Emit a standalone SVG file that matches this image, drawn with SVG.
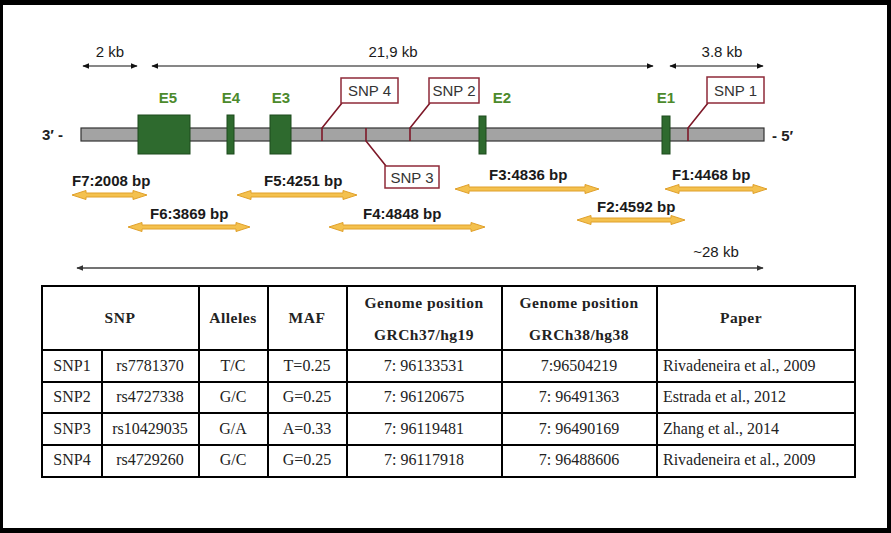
<svg xmlns="http://www.w3.org/2000/svg" width="891" height="533" viewBox="0 0 891 533">
<defs>
<style>
.sans{font-family:"Liberation Sans",Arial,sans-serif}
.scale{font-size:15px;fill:#1a1a1a}
.exon{fill:#2e6a2e;stroke:#1c4a1c;stroke-width:1}
.elab{font-size:15px;font-weight:bold;fill:#4c8a2c;text-anchor:middle}
.snpbox{fill:#fff;stroke:#8e2a38;stroke-width:1.5}
.snptxt{font-size:15px;fill:#333;text-anchor:middle}
.snpline{fill:none;stroke:#7d1828;stroke-width:1.6}
.frag{fill:#f4c14e;stroke:#e0a02a;stroke-width:1}
.flab{font-size:15px;font-weight:bold;fill:#1a1a1a}
.dim{stroke:#111;stroke-width:1.2;fill:none}
.serif{font-family:"Liberation Serif","Times New Roman",serif;font-size:16px;fill:#222}
.hd{font-weight:bold;font-size:15.5px;letter-spacing:0.5px}
.c{text-anchor:middle}
.grid{stroke:#000;stroke-width:2;fill:none}
</style>
<marker id="ah" viewBox="0 0 10 10" refX="9" refY="5" markerWidth="7" markerHeight="7" orient="auto-start-reverse" markerUnits="userSpaceOnUse">
<path d="M0,1 L10,5 L0,9 z" fill="#111"/>
</marker>
<marker id="ahg" viewBox="0 0 10 10" refX="9" refY="5" markerWidth="7" markerHeight="7" orient="auto-start-reverse" markerUnits="userSpaceOnUse">
<path d="M0,1 L10,5 L0,9 z" fill="#333"/>
</marker>
</defs>
<rect x="0" y="0" width="891" height="533" fill="#000"/>
<rect x="3" y="5" width="884" height="523" fill="#fff"/>

<g id="scale-bars" class="sans">
<line class="dim" x1="83" y1="66" x2="137" y2="66" marker-start="url(#ah)" marker-end="url(#ah)"/>
<text class="scale" x="110" y="57" text-anchor="middle">2 kb</text>
<line class="dim" x1="152" y1="66" x2="653" y2="66" marker-start="url(#ah)" marker-end="url(#ah)"/>
<text class="scale" x="393" y="57" text-anchor="middle">21,9 kb</text>
<line class="dim" x1="670" y1="66" x2="763" y2="66" marker-start="url(#ah)" marker-end="url(#ah)"/>
<text class="scale" x="722" y="57" text-anchor="middle">3.8 kb</text>
<line x1="77" y1="268" x2="763" y2="268" stroke="#444" stroke-width="1.4" marker-start="url(#ahg)" marker-end="url(#ahg)"/>
<text class="scale" x="716" y="257" text-anchor="middle">~28 kb</text>
</g>

<g id="gene" class="sans">
<rect x="81" y="128" width="683" height="13" fill="#a3a3a3" stroke="#333" stroke-width="1.2"/>
<text x="42" y="140" font-size="15" font-weight="bold" fill="#222">3′ -</text>
<text x="772" y="141" font-size="15" font-weight="bold" fill="#222">- 5′</text>
</g>

<g id="exon-E5" class="sans"><rect class="exon" x="138" y="115" width="52" height="39"/><text class="elab" x="168" y="103">E5</text></g>
<g id="exon-E4" class="sans"><rect class="exon" x="227" y="115" width="7" height="39"/><text class="elab" x="231" y="103">E4</text></g>
<g id="exon-E3" class="sans"><rect class="exon" x="270" y="115" width="21" height="39"/><text class="elab" x="281" y="103">E3</text></g>
<g id="exon-E2" class="sans"><rect class="exon" x="479" y="116" width="7" height="38"/><text class="elab" x="502" y="103">E2</text></g>
<g id="exon-E1" class="sans"><rect class="exon" x="662" y="116" width="8" height="38"/><text class="elab" x="666" y="103">E1</text></g>

<g id="connectors">
<polyline class="snpline" points="342,103 322,128 322,141"/>
<polyline class="snpline" points="430,103 410,128 410,141"/>
<polyline class="snpline" points="366,128 366,141 386,166"/>
<polyline class="snpline" points="708,103 688,128 688,141"/>
</g>

<g id="snp4" class="sans"><rect class="snpbox" x="341" y="78" width="57" height="25"/><text class="snptxt" x="369.5" y="96">SNP 4</text></g>
<g id="snp2" class="sans"><rect class="snpbox" x="429" y="78" width="50" height="25"/><text class="snptxt" x="454" y="96">SNP 2</text></g>
<g id="snp3" class="sans"><rect class="snpbox" x="385" y="166" width="54" height="22"/><text class="snptxt" x="412" y="183">SNP 3</text></g>
<g id="snp1" class="sans"><rect class="snpbox" x="707" y="77" width="57" height="26"/><text class="snptxt" x="735.5" y="96">SNP 1</text></g>

<g id="F7" class="sans"><polygon class="frag" points="72,195 86,190.5 86,193 133,193 133,190.5 147,195 133,199.5 133,197 86,197 86,199.5"/><text class="flab" x="72" y="186">F7:2008 bp</text></g>
<g id="F6" class="sans"><polygon class="frag" points="128,227 142,222.5 142,225 236,225 236,222.5 250,227 236,231.5 236,229 142,229 142,231.5"/><text class="flab" x="150" y="219">F6:3869 bp</text></g>
<g id="F5" class="sans"><polygon class="frag" points="237,195 251,190.5 251,193 343,193 343,190.5 357,195 343,199.5 343,197 251,197 251,199.5"/><text class="flab" x="264" y="186">F5:4251 bp</text></g>
<g id="F4" class="sans"><polygon class="frag" points="329,227 343,222.5 343,225 471,225 471,222.5 485,227 471,231.5 471,229 343,229 343,231.5"/><text class="flab" x="363" y="219">F4:4848 bp</text></g>
<g id="F3" class="sans"><polygon class="frag" points="455,189 469,184.5 469,187 585,187 585,184.5 599,189 585,193.5 585,191 469,191 469,193.5"/><text class="flab" x="489" y="180">F3:4836 bp</text></g>
<g id="F2" class="sans"><polygon class="frag" points="577,220 591,215.5 591,218 671,218 671,215.5 685,220 671,224.5 671,222 591,222 591,224.5"/><text class="flab" x="597" y="212">F2:4592 bp</text></g>
<g id="F1" class="sans"><polygon class="frag" points="665,189 679,184.5 679,187 753,187 753,184.5 767,189 753,193.5 753,191 679,191 679,193.5"/><text class="flab" x="672" y="180">F1:4468 bp</text></g>

<g id="table" class="serif">
<rect class="grid" x="42" y="286" width="813" height="191"/>
<line class="grid" x1="42" y1="350" x2="855" y2="350"/>
<line class="grid" x1="42" y1="382" x2="855" y2="382"/>
<line class="grid" x1="42" y1="413" x2="855" y2="413"/>
<line class="grid" x1="42" y1="445" x2="855" y2="445"/>
<line class="grid" x1="102" y1="350" x2="102" y2="477"/>
<line class="grid" x1="199" y1="286" x2="199" y2="477"/>
<line class="grid" x1="268" y1="286" x2="268" y2="477"/>
<line class="grid" x1="347" y1="286" x2="347" y2="477"/>
<line class="grid" x1="502" y1="286" x2="502" y2="477"/>
<line class="grid" x1="657" y1="286" x2="657" y2="477"/>
<text class="hd c" x="120" y="323">SNP</text>
<text class="hd c" x="233" y="323">Alleles</text>
<text class="hd c" x="307" y="323">MAF</text>
<text class="hd c" x="424" y="308">Genome position</text>
<text class="hd c" x="424" y="340">GRCh37/hg19</text>
<text class="hd c" x="579" y="308">Genome position</text>
<text class="hd c" x="579" y="340">GRCh38/hg38</text>
<text class="hd c" x="741" y="323">Paper</text>
<text class="c" x="72" y="371">SNP1</text><text class="c" x="150" y="371">rs7781370</text><text class="c" x="233" y="371">T/C</text><text class="c" x="307" y="371">T=0.25</text><text class="c" x="424" y="371">7: 96133531</text><text class="c" x="579" y="371">7:96504219</text><text x="663" y="371">Rivadeneira et al., 2009</text>
<text class="c" x="72" y="402">SNP2</text><text class="c" x="150" y="402">rs4727338</text><text class="c" x="233" y="402">G/C</text><text class="c" x="307" y="402">G=0.25</text><text class="c" x="424" y="402">7: 96120675</text><text class="c" x="579" y="402">7: 96491363</text><text x="663" y="402">Estrada et al., 2012</text>
<text class="c" x="72" y="434">SNP3</text><text class="c" x="150" y="434">rs10429035</text><text class="c" x="233" y="434">G/A</text><text class="c" x="307" y="434">A=0.33</text><text class="c" x="424" y="434">7: 96119481</text><text class="c" x="579" y="434">7: 96490169</text><text x="663" y="434">Zhang et al., 2014</text>
<text class="c" x="72" y="465">SNP4</text><text class="c" x="150" y="465">rs4729260</text><text class="c" x="233" y="465">G/C</text><text class="c" x="307" y="465">G=0.25</text><text class="c" x="424" y="465">7: 96117918</text><text class="c" x="579" y="465">7: 96488606</text><text x="663" y="465">Rivadeneira et al., 2009</text>
</g>
</svg>
